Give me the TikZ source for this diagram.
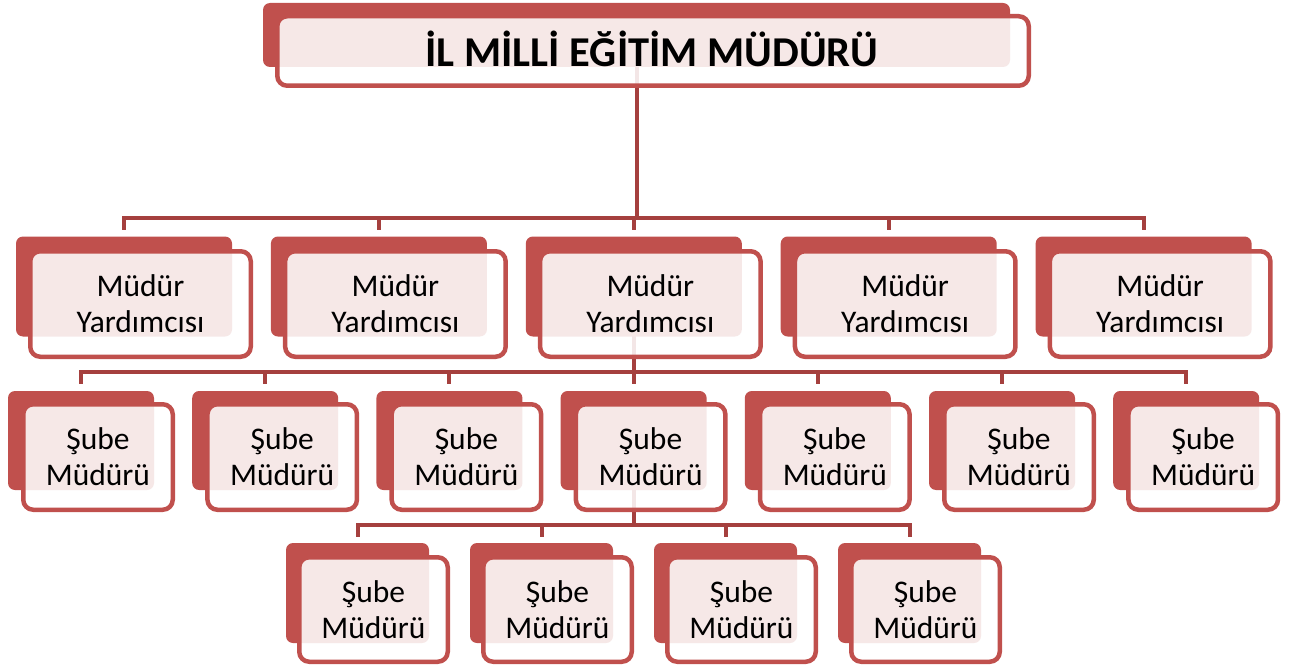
\documentclass[tikz,border=0pt]{standalone}
\usepackage{fontspec}
\setmainfont{Carlito}
\usetikzlibrary{calc}
\definecolor{boxred}{HTML}{C0504D}
\definecolor{linered}{HTML}{A5403E}
\pgfdeclarelayer{bg}
\pgfsetlayers{bg,main}
\begin{document}
\begin{tikzpicture}[x=1pt,y=-1pt,
  back/.style={fill=boxred, rounded corners=7pt, inner sep=0pt},
  front/.style={draw=boxred, line width=4.5pt, fill=white, fill opacity=0.87, text opacity=1, rounded corners=10pt, inner sep=0pt, align=center, text=black},
  lvltext/.style={font=\fontsize{31.5}{36}\selectfont},
  conn/.style={draw=linered, line width=4pt}]
\useasboundingbox (0,0) rectangle (1296,666);
% top
\node[back, minimum width=747pt, minimum height=64pt] (top) at (636.5,35) {};
\node[front, minimum width=751.5pt, minimum height=69.5pt] (topf) at (653,51) {};
\node[font=\fontsize{42.5}{48}\selectfont\bfseries, text=black, inner sep=0pt] (title) at (652,49) {İL MİLLİ EĞİTİM MÜDÜRÜ};
% level 2
\foreach \i in {1,...,5} {
  \pgfmathsetmacro\cx{124+254.9*(\i-1)}
  \node[back, minimum width=216pt, minimum height=100pt] (b2-\i) at (\cx,286.5) {};
  \node[front, lvltext, minimum width=220.5pt, minimum height=105.5pt] (f2-\i) at (\cx+16.5,304) {Müdür\\Yardımcısı};
}
% level 3
\foreach \i in {1,...,7} {
  \pgfmathsetmacro\cx{81+184.2*(\i-1)}
  \node[back, minimum width=146pt, minimum height=99pt] (b3-\i) at (\cx,440.5) {};
  \node[front, lvltext, minimum width=149.5pt, minimum height=105.5pt] (f3-\i) at (\cx+17,457) {Şube\\Müdürü};
}
% level 4
\foreach \i in {1,...,4} {
  \pgfmathsetmacro\cx{357.5+184*(\i-1)}
  \node[back, minimum width=143pt, minimum height=100pt] (b4-\i) at (\cx,593) {};
  \node[front, lvltext, minimum width=148.5pt, minimum height=104.5pt] (f4-\i) at (\cx+16,609.5) {Şube\\Müdürü};
}
\begin{pgfonlayer}{bg}
\coordinate (bar2) at (0,217.5);
\coordinate (bar3) at (0,372);
\coordinate (bar4) at (0,525);
\draw[conn] (top.center) -- (top.center |- bar2);
\draw[conn] ([yshift=6.5pt]b2-1.north) -- (b2-1.center |- bar2) -- (b2-5.center |- bar2) -- ([yshift=6.5pt]b2-5.north);
\foreach \i in {2,3,4} { \draw[conn] (b2-\i.center |- bar2) -- ([yshift=6.5pt]b2-\i.north); }
\draw[conn] (b2-3.center) -- (b2-3.center |- bar3);
\draw[conn] ([yshift=7pt]b3-1.north) -- (b3-1.center |- bar3) -- (b3-7.center |- bar3) -- ([yshift=7pt]b3-7.north);
\foreach \i in {2,...,6} { \draw[conn] (b3-\i.center |- bar3) -- ([yshift=7pt]b3-\i.north); }
\draw[conn] (b3-4.center) -- (b3-4.center |- bar4);
\draw[conn] ([yshift=6pt]b4-1.north) -- (b4-1.center |- bar4) -- (b4-4.center |- bar4) -- ([yshift=6pt]b4-4.north);
\foreach \i in {2,3} { \draw[conn] (b4-\i.center |- bar4) -- ([yshift=6pt]b4-\i.north); }
\end{pgfonlayer}
\end{tikzpicture}
\end{document}
